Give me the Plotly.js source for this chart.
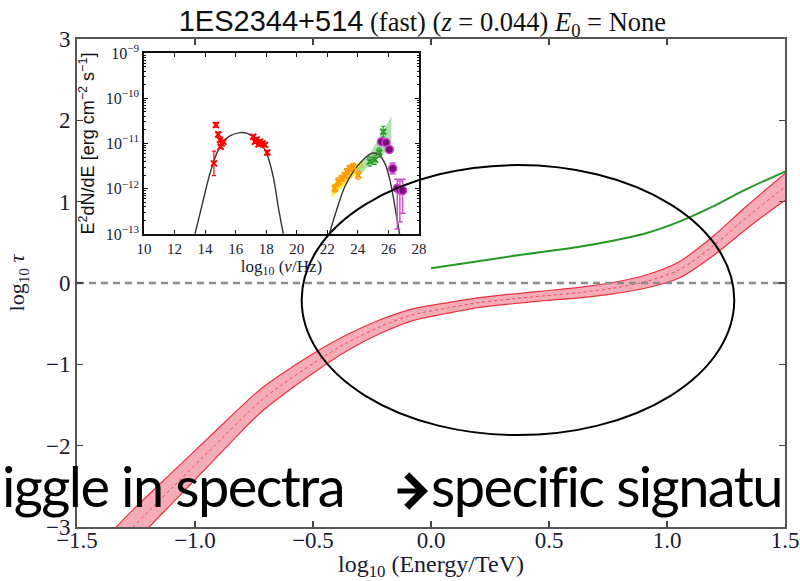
<!DOCTYPE html>
<html>
<head>
<meta charset="utf-8">
<script src="https://cdn.plot.ly/plotly-3.0.1.min.js"></script>
<style>
html,body{margin:0;padding:0;background:#fff;}
#chart{width:800px;height:581px;}
.annotation-text{letter-spacing:-1.6px;}
</style>
</head>
<body>
<div id="chart"></div>
<script>
// ---- main panel: optical depth vs energy ----
const logE   = [-1.35, -1.263, -1.094, -0.924, -0.810, -0.726, -0.641, -0.500, -0.359, -0.218, -0.077, 0.065, 0.205, 0.346, 0.488, 0.629, 0.770, 0.911, 1.052, 1.193, 1.334, 1.475, 1.50];
const tauMid = [-3.27, -3.00, -2.51, -2.02, -1.69, -1.46, -1.27, -0.99, -0.74, -0.54, -0.39, -0.31, -0.24, -0.195, -0.155, -0.118, -0.064, 0.018, 0.162, 0.449, 0.798, 1.125, 1.18];
const tauLo  = [-3.49, -3.21, -2.70, -2.19, -1.845, -1.605, -1.405, -1.11, -0.84, -0.625, -0.462, -0.375, -0.30, -0.255, -0.215, -0.183, -0.134, -0.062, 0.062, 0.329, 0.658, 0.965, 1.015];
const tauHi  = [-3.05, -2.79, -2.32, -1.85, -1.535, -1.315, -1.135, -0.87, -0.64, -0.455, -0.318, -0.245, -0.18, -0.135, -0.095, -0.053, 0.006, 0.098, 0.262, 0.569, 0.938, 1.285, 1.345];
const greenE   = [0.00, 0.346, 0.629, 0.770, 0.911, 1.052, 1.193, 1.334, 1.50];
const greenTau = [0.18, 0.332, 0.446, 0.52, 0.611, 0.754, 0.939, 1.15, 1.37];
const refE   = [-1.5, 1.5];
const refTau = [0, 0];
const xTicks = [-1.5, -1.0, -0.5, 0.0, 0.5, 1.0, 1.5];
const yTicks = [-3, -2, -1, 0, 1, 2, 3];

// ---- inset: SED, log10(nu/Hz) vs log10(E^2 dN/dE) ----
const syncNu = [13.34, 13.88, 14.32, 14.76, 15.19, 15.63, 16.28, 16.72, 17.15, 17.59, 18.03, 18.46, 18.79, 19.12];
const syncF  = [-13.0, -12.25, -11.66, -11.22, -10.96, -10.83, -10.76, -10.77, -10.85, -10.96, -11.22, -11.73, -12.40, -13.0];
const icNu = [22.13, 22.61, 23.15, 23.70, 24.35, 24.90, 25.33, 25.77, 26.10, 26.43, 26.73];
const icF  = [-13.0, -12.47, -11.95, -11.62, -11.36, -11.22, -11.23, -11.44, -11.81, -12.40, -13.0];
const redNu  = [14.58, 14.71, 14.86, 14.97, 15.02, 15.08, 15.19, 17.15, 17.26, 17.37, 17.50, 17.59, 17.77, 17.92, 18.07];
const redF   = [-11.44, -10.59, -10.80, -10.92, -11.07, -11.00, -10.96, -10.85, -10.96, -10.91, -11.02, -10.96, -11.00, -11.03, -11.20];
const redErr = [0.27, 0.05, 0.05, 0.04, 0.04, 0.04, 0.04, 0.04, 0.04, 0.04, 0.04, 0.04, 0.04, 0.04, 0.05];
const orangeNu  = [22.50, 22.72, 22.94, 23.15, 23.30, 23.48, 23.70, 24.02];
const orangeF   = [-11.99, -11.84, -11.77, -11.70, -11.62, -11.55, -11.51, -11.70];
const orangeErr = [0.08, 0.08, 0.07, 0.07, 0.07, 0.07, 0.07, 0.09];
const yellowNu = [22.28, 24.34, 24.34, 22.28, 22.28];
const yellowF  = [-11.92, -11.36, -11.52, -12.20, -11.92];
const fermiNu = [23.90, 24.80, 26.20, 26.20, 24.80, 23.90, 23.90];
const fermiF  = [-11.58, -11.22, -10.40, -11.08, -11.45, -11.80, -11.58];
const greenNu  = [24.79, 25.12, 25.40, 25.66];
const greenF   = [-11.40, -11.36, -11.20, -10.74];
const greenErr = [0.10, 0.10, 0.10, 0.12];
const purpNu  = [25.55, 25.84, 26.06, 26.28, 26.58, 26.75, 26.93];
const purpF   = [-10.96, -10.98, -11.13, -11.55, -11.99, -12.03, -12.04];
const purpErrP = [0.05, 0.05, 0.06, 0.12, 0.20, 0.20, 0.25];
const purpErrM = [0.05, 0.05, 0.06, 0.12, 0.90, 0.70, 0.50];
const insetXTicks = [10, 12, 14, 16, 18, 20, 22, 24, 26, 28];
const insetYTicks = [-13, -12, -11, -10, -9];
const insetYText  = ['10<sup>−13</sup>', '10<sup>−12</sup>', '10<sup>−11</sup>', '10<sup>−10</sup>', '10<sup>−9</sup>'];

// ellipse overlay (data coordinates of main panel)
const ellipseE   = [-0.548, 1.285];
const ellipseTau = [-1.87, 1.45];

const minorY = [];
insetYTicks.slice(0, -1).forEach(d => { for (let k = 2; k <= 9; k++) minorY.push(d + Math.log10(k)); });

const serif = 'Liberation Serif, Times New Roman, serif';
const sans = 'Liberation Sans, Arial, sans-serif';
const slide = 'Lato, Open Sans, sans-serif';

const traces = [
  {x: logE, y: tauLo, mode: 'lines', line: {color: '#e8303e', width: 1.2, shape: 'spline', smoothing: 0.8}, hoverinfo: 'skip', showlegend: false},
  {x: logE, y: tauHi, mode: 'lines', fill: 'tonexty', fillcolor: 'rgba(236,90,110,0.50)', line: {color: '#e8303e', width: 1.2, shape: 'spline', smoothing: 0.8}, showlegend: false},
  {x: logE, y: tauMid, mode: 'lines', line: {color: 'rgba(225,50,70,0.8)', width: 1, dash: 'dot', shape: 'spline', smoothing: 0.8}, showlegend: false},
  {x: greenE, y: greenTau, mode: 'lines', line: {color: '#229a22', width: 2, shape: 'spline', smoothing: 0.8}, showlegend: false},
  {x: refE, y: refTau, mode: 'lines', line: {color: '#8c8c8c', width: 2.5, dash: '7px,5px'}, showlegend: false},
  // inset
  {x: yellowNu, y: yellowF, xaxis: 'x2', yaxis: 'y2', mode: 'lines', fill: 'toself', fillcolor: 'rgba(255,225,0,0.75)', line: {width: 0}, showlegend: false},
  {x: fermiNu, y: fermiF, xaxis: 'x2', yaxis: 'y2', mode: 'lines', fill: 'toself', fillcolor: 'rgba(110,200,110,0.55)', line: {width: 0}, showlegend: false},
  {x: syncNu, y: syncF, xaxis: 'x2', yaxis: 'y2', mode: 'lines', line: {color: '#333', width: 1.4, shape: 'spline'}, showlegend: false},
  {x: icNu, y: icF, xaxis: 'x2', yaxis: 'y2', mode: 'lines', line: {color: '#333', width: 1.4, shape: 'spline'}, showlegend: false},
  {x: redNu, y: redF, xaxis: 'x2', yaxis: 'y2', mode: 'markers', marker: {symbol: 'x-thin-open', size: 6, color: '#ff0000', line: {color: '#ff0000', width: 2}},
   error_y: {type: 'data', array: redErr, color: '#ff0000', thickness: 1.2, width: 2}, showlegend: false},
  {x: orangeNu, y: orangeF, xaxis: 'x2', yaxis: 'y2', mode: 'markers', marker: {symbol: 'x-thin-open', size: 6, color: '#ff9900', line: {color: '#ff9900', width: 2}},
   error_y: {type: 'data', array: orangeErr, color: '#ff9900', thickness: 1.2, width: 2}, showlegend: false},
  {x: greenNu, y: greenF, xaxis: 'x2', yaxis: 'y2', mode: 'markers', marker: {symbol: 'x-thin-open', size: 6, color: '#2a9a2a', line: {color: '#2a9a2a', width: 2}},
   error_y: {type: 'data', array: greenErr, color: '#2a9a2a', thickness: 1.2, width: 2}, showlegend: false},
  {x: purpNu, y: purpF, xaxis: 'x2', yaxis: 'y2', mode: 'markers', marker: {symbol: 'circle', size: 8, color: '#7a0a7a', line: {color: '#d040d0', width: 1.5}},
   error_y: {type: 'data', symmetric: false, array: purpErrP, arrayminus: purpErrM, color: '#d050d0', thickness: 1.5, width: 3}, showlegend: false}
];

const layout = {
  width: 800, height: 581,
  margin: {l: 77, r: 15, t: 39, b: 54},
  paper_bgcolor: '#fff', plot_bgcolor: '#fff',
  showlegend: false,
  title: {
    text: '<span style="font-family:Liberation Sans, Arial, sans-serif;font-size:29px">1ES2344+514</span> (fast) (<i>z</i> = 0.044) <i>E</i><sub>0</sub> = None',
    font: {family: serif, size: 26.5, color: '#111'},
    x: 0.528, xanchor: 'center', xref: 'container',
    y: 0.962, yanchor: 'middle', yref: 'container'
  },
  xaxis: {
    domain: [0, 1], range: [-1.5, 1.5], tickmode: 'array', tickvals: xTicks, tickformat: '.1f',
    ticks: 'inside', ticklen: 6, tickwidth: 1.2, tickcolor: '#444', ticklabelstandoff: -8,
    showline: true, linecolor: '#555', linewidth: 1.8, mirror: 'ticks',
    showgrid: false, zeroline: false,
    tickfont: {family: serif, size: 23, color: '#1a1a33'},
    title: {text: 'log<sub>10</sub> (Energy/TeV)', font: {family: serif, size: 24, color: '#1a1a33'}, standoff: 8}
  },
  yaxis: {
    domain: [0, 1], range: [-3, 3], tickmode: 'array', tickvals: yTicks,
    ticks: 'inside', ticklen: 6, tickwidth: 1.2, tickcolor: '#444',
    showline: true, linecolor: '#555', linewidth: 1.8, mirror: 'ticks',
    showgrid: false, zeroline: false,
    tickfont: {family: serif, size: 23, color: '#1a1a33'},
    title: {text: 'log<sub>10</sub> <i>τ</i>', font: {family: serif, size: 22, color: '#1a1a33'}, standoff: 15}
  },
  xaxis2: {
    domain: [0.0946, 0.483], anchor: 'y2', range: [10, 28], tickmode: 'array', tickvals: insetXTicks,
    ticks: 'inside', ticklen: 4, tickcolor: '#111',
    showline: true, linecolor: '#111', linewidth: 1.6, mirror: 'ticks',
    showgrid: false, zeroline: false,
    tickfont: {family: serif, size: 15, color: '#1a1a33'},
    title: {text: 'log<sub>10</sub> (<i>ν</i>/Hz)', font: {family: serif, size: 17, color: '#1a1a33'}, standoff: 0}
  },
  yaxis2: {
    domain: [0.6004, 0.9713], anchor: 'x2', range: [-13, -9], tickmode: 'array', tickvals: insetYTicks, ticktext: insetYText,
    ticks: 'inside', ticklen: 4, tickcolor: '#111',
    minor: {tickmode: 'array', tickvals: minorY, ticks: 'inside', ticklen: 2, tickcolor: '#111'},
    showline: true, linecolor: '#111', linewidth: 1.6, mirror: 'ticks',
    showgrid: false, zeroline: false,
    tickfont: {family: serif, size: 16, color: '#1a1a33'},
    title: {text: 'E<sup>2</sup>dN/dE [erg cm<sup>−2</sup> s<sup>−1</sup>]', font: {family: sans, size: 18, color: '#111'}, standoff: 6}
  },
  shapes: [
    {type: 'circle', xref: 'x', yref: 'y', x0: ellipseE[0], x1: ellipseE[1], y0: ellipseTau[0], y1: ellipseTau[1],
     line: {color: '#000', width: 2}, layer: 'above'}
  ],
  annotations: [
    {text: 'iggle in spectra', xref: 'paper', yref: 'paper', x: -77/708, y: 0.085, xanchor: 'left', yanchor: 'middle',
     showarrow: false, font: {family: slide, size: 56, color: '#000'}},
    {text: '', xref: 'paper', yref: 'paper', x: (428-77)/708, y: (527-491)/488,
     showarrow: true, ax: -32, ay: 0, arrowhead: 4, arrowsize: 1.25, arrowwidth: 5, arrowcolor: '#000', standoff: 0},
    {text: 'specific signatu', xref: 'paper', yref: 'paper', x: (784-77)/708, y: 0.085, xanchor: 'right', yanchor: 'middle',
     showarrow: false, font: {family: slide, size: 56, color: '#000'}}
  ]
};

Plotly.newPlot('chart', traces, layout, {displayModeBar: false, staticPlot: true});
</script>
</body>
</html>
